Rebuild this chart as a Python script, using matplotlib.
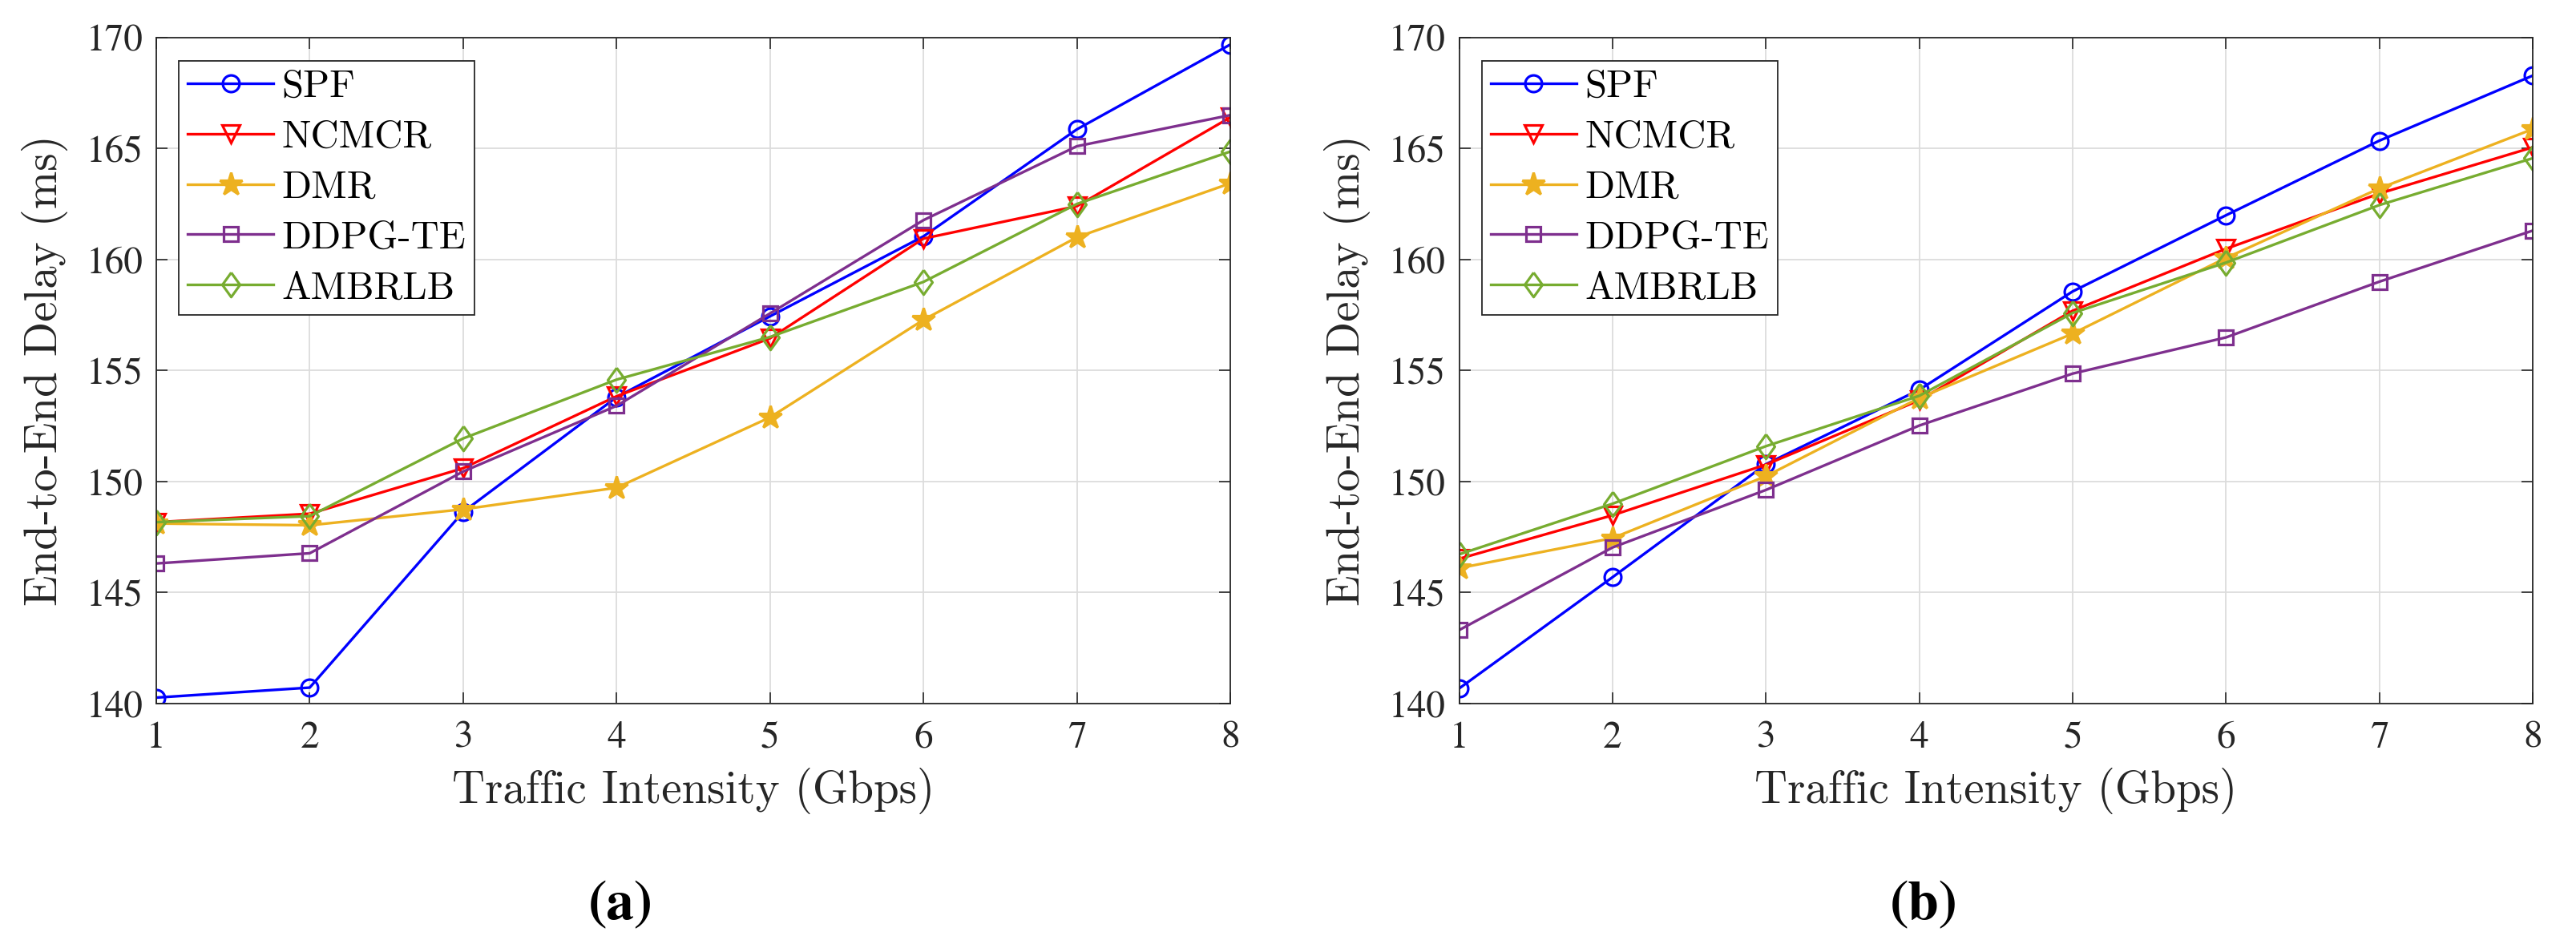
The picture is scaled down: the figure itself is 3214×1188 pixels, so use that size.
import matplotlib
matplotlib.use("Agg")
import matplotlib.pyplot as plt

plt.rcParams['axes.unicode_minus'] = False

# traffic intensity (Gbps)
traffic = [1, 2, 3, 4, 5, 6, 7, 8]
methods = ['SPF', 'NCMCR', 'DMR', 'DDPG-TE', 'AMBRLB']

# (a) end-to-end delay (ms)
spf_a = [140.27, 140.72, 148.63, 153.8, 157.44, 161.04, 165.86, 169.68]
ncmcr_a = [148.17, 148.55, 150.6, 153.84, 156.45, 160.94, 162.4, 166.4]
dmr_a = [148.11, 148.03, 148.75, 149.72, 152.89, 157.28, 161.0, 163.43]
ddpg_a = [146.31, 146.77, 150.45, 153.41, 157.57, 161.77, 165.1, 166.5]
ambrlb_a = [148.17, 148.44, 151.94, 154.59, 156.51, 158.99, 162.5, 164.86]

# (b) end-to-end delay (ms)
spf_b = [140.68, 145.69, 150.78, 154.13, 158.56, 161.99, 165.35, 168.28]
ncmcr_b = [146.52, 148.48, 150.76, 153.66, 157.69, 160.48, 162.97, 165.05]
dmr_b = [146.1, 147.45, 150.24, 153.76, 156.66, 160.07, 163.2, 165.87]
ddpg_b = [143.31, 147.03, 149.62, 152.52, 154.86, 156.49, 159.0, 161.3]
ambrlb_b = [146.72, 149.0, 151.59, 153.86, 157.59, 159.86, 162.45, 164.56]

colors = ['#0000FF', '#FF0000', '#EDB120', '#7E2F8E', '#77AC30']
# MATLAB-like diamond (a bit wider than matplotlib's thin diamond)
diamond = [(0, 1), (0.72, 0), (0, -1), (-0.72, 0), (0, 1)]
markers = ['o', 'v', '*', 's', diamond]
msizes = [15, 16, 21, 13, 22]

W, H = 3214, 1188
fig = plt.figure(figsize=(W / 100, H / 100), dpi=100)

tick_font = ['STIXGeneral', 'Liberation Serif', 'DejaVu Serif']
label_font = 'cmr10'
LEG_FS = 35


def draw(ax, series):
    for name, vals, c, m, ms in zip(methods, series, colors, markers, msizes):
        face = c if m == '*' else 'none'
        ax.plot(traffic, vals, color=c, lw=2.4, marker=m, ms=ms,
                mfc=face, mec=c, mew=2.3, label=name)
    ax.set_xlim(1, 8)
    ax.set_ylim(140, 170)
    ax.set_xticks(traffic)
    ax.set_yticks([140, 145, 150, 155, 160, 165, 170])
    ax.grid(True, color='#dcdcdc', lw=1.3)
    ax.set_axisbelow(True)
    ax.tick_params(direction='in', length=10, width=1.2, top=True, right=True,
                   colors='#262626', labelsize=34)
    ax.tick_params(axis='x', pad=16)
    ax.tick_params(axis='y', pad=12)
    for lab in ax.get_xticklabels() + ax.get_yticklabels():
        lab.set_fontfamily(tick_font)
    for s in ax.spines.values():
        s.set_color('#262626')
        s.set_linewidth(1.3)
    ax.set_xlabel('Traffic Intensity (Gbps)', fontsize=41, family=label_font,
                  color='#262626')
    ax.xaxis.set_label_coords(0.5, -0.149)
    ax.xaxis.label.set_va('baseline')
    ax.set_ylabel('End-to-End Delay (ms)', fontsize=41, family=label_font,
                  color='#262626')
    ax.yaxis.set_label_coords(-0.104, 0.5)
    ax.yaxis.label.set_va('center')


def add_legend(ax, spacing):
    leg = ax.legend(loc='upper left', bbox_to_anchor=(0.0212, 0.9648),
                    borderaxespad=0, prop={'family': label_font, 'size': LEG_FS},
                    handlelength=2.2, handletextpad=0.22, borderpad=0.22,
                    labelspacing=spacing, fancybox=False, framealpha=1,
                    edgecolor='#262626')
    leg.get_frame().set_linewidth(1.3)
    return leg


ax1 = fig.add_axes([195 / W, 1 - 878 / H, 1340 / W, 831.3 / H])
draw(ax1, [spf_a, ncmcr_a, dmr_a, ddpg_a, ambrlb_a])

ax2 = fig.add_axes([1820.5 / W, 1 - 878 / H, 1339.5 / W, 831.3 / H])
draw(ax2, [spf_b, ncmcr_b, dmr_b, ddpg_b, ambrlb_b])

# size legend so the frame is ~317 px tall like the reference
fig.canvas.draw()
r = fig.canvas.get_renderer()
h0 = add_legend(ax1, 0.0).get_window_extent(r).height
ls = max(0.0, (317 - h0) / (4 * LEG_FS * 100 / 72))
for ax in (ax1, ax2):
    add_legend(ax, ls)

fig.text(774 / W, 1 - 1147 / H, '(a)', ha='center', va='baseline',
         fontsize=50, fontweight='bold', family=tick_font)
fig.text(2400 / W, 1 - 1147 / H, '(b)', ha='center', va='baseline',
         fontsize=50, fontweight='bold', family=tick_font)

fig.savefig('out.png', dpi=100, facecolor='white')
